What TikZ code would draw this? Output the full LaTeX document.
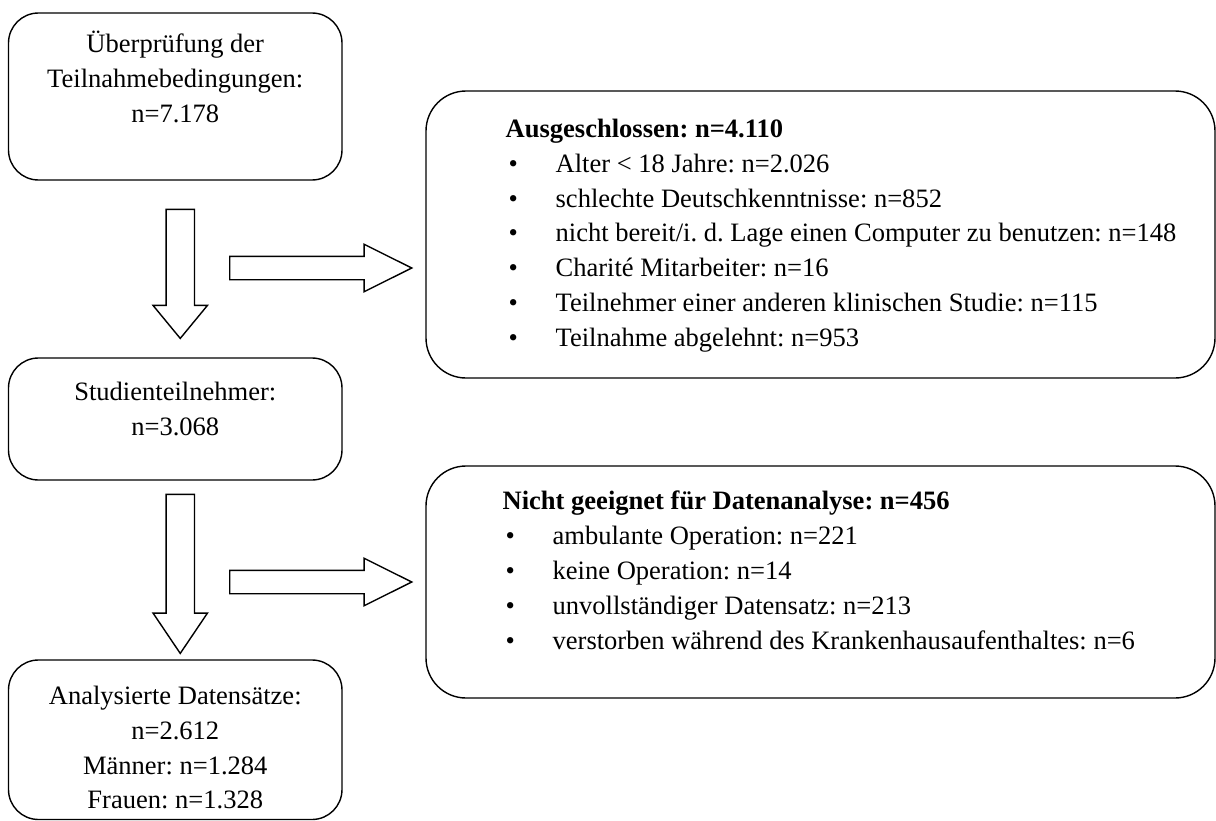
\documentclass[tikz,border=0pt]{standalone}
\usepackage{fontspec}
\setmainfont{Liberation Serif}
\usepackage{tikz}
\usetikzlibrary{shapes,arrows,positioning}
\frenchspacing
\tikzstyle{leftbox}=[rectangle, rounded corners=0.6cm, draw, thick, minimum width=6.67cm]
\tikzstyle{rightbox}=[rectangle, rounded corners=0.8cm, draw, thick, minimum width=15.78cm]
\tikzstyle{boxtext}=[inner sep=0pt, align=center]
\tikzstyle{listtext}=[inner sep=0pt, align=left]
\tikzstyle{downarrow}=[single arrow, draw, thick, inner sep=0.27cm, shape border rotate=270, minimum width=1.06cm, single arrow head extend=0.26cm, anchor=tail]
\tikzstyle{rightarrow}=[single arrow, draw, thick, inner sep=0.22cm, minimum width=0.92cm, single arrow head extend=0.24cm, single arrow tip angle=53, minimum height=3.64cm, anchor=tip]
\newcommand{\itm}[1]{\makebox[1.0cm][l]{\hspace{0.06cm}\textbullet}#1}

\begin{document}
\begin{tikzpicture}[every node/.style = {font=\fontsize{15.1}{19.9}\selectfont}]
\useasboundingbox (0,0) rectangle (24.32,-16.42);

\node[leftbox, minimum height=3.34cm] (b1) at (3.505,-1.93) {};
\node[leftbox, minimum height=2.44cm] (b2) at (3.505,-8.38) {};
\node[leftbox, minimum height=3.19cm] (b3) at (3.505,-14.795) {};
\node[rightbox, minimum height=5.74cm] (bA) at (16.41,-4.69) {};
\node[rightbox, minimum height=4.64cm] (bB) at (16.41,-11.64) {};

\node[boxtext, below=0.36cm of b1.north] (t1) {Überprüfung der\\Teilnahmebedingungen:\\n=7.178};
\node[boxtext, below=0.48cm of b2.north] (t2) {Studienteilnehmer:\\n=3.068};
\node[boxtext, below=0.52cm of b3.north] (t3) {Analysierte Datensätze:\\n=2.612\\Männer: n=1.284\\Frauen: n=1.328};

\node[listtext, below right=0.56cm and 1.6cm of bA.north west] (tA) {\textbf{Ausgeschlossen: n=4.110}\\
 \itm{Alter < 18 Jahre: n=2.026}\\
 \itm{schlechte Deutschkenntnisse: n=852}\\
 \itm{nicht bereit/i. d. Lage einen Computer zu benutzen: n=148}\\
 \itm{Charité Mitarbeiter: n=16}\\
 \itm{Teilnehmer einer anderen klinischen Studie: n=115}\\
 \itm{Teilnahme abgelehnt: n=953}};
\node[listtext, below right=0.5cm and 1.54cm of bB.north west] (tB) {\textbf{Nicht geeignet für Datenanalyse: n=456}\\
 \itm{ambulante Operation: n=221}\\
 \itm{keine Operation: n=14}\\
 \itm{unvollständiger Datensatz: n=213}\\
 \itm{verstorben während des Krankenhausaufenthaltes: n=6}};

\node[downarrow, minimum height=2.58cm, single arrow tip angle=79] (a1) at ([xshift=0.1cm,yshift=-0.56cm]b1.south) {};
\node[downarrow, minimum height=3.18cm, single arrow tip angle=68] (a2) at ([xshift=0.1cm,yshift=-0.26cm]b2.south) {};
\node[rightarrow] (a3) at ([xshift=-0.24cm,yshift=-0.67cm]bA.west) {};
\node[rightarrow] (a4) at ([xshift=-0.24cm]bB.west) {};

\end{tikzpicture}
\end{document}
